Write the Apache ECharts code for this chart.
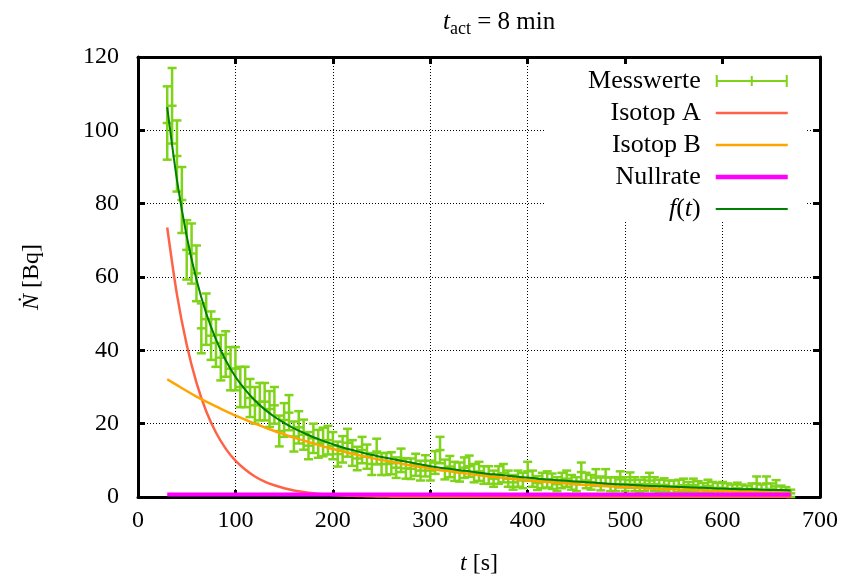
<!DOCTYPE html>
<html>
<head>
<meta charset="utf-8">
<script src="https://cdn.jsdelivr.net/npm/echarts@6/dist/echarts.min.js"></script>
<style>
  html, body { margin: 0; padding: 0; background: #fff; }
  #chart { width: 848px; height: 581px; }
</style>
</head>
<body>
<div id="chart"></div>
<script>
// Messwerte (t in s, Rate in Bq, Fehler)
var tData = [
  30,35,40,45,50,55,60,65,70,75,
  80,85,90,95,100,105,110,115,120,125,
  130,135,140,145,150,155,160,165,170,175,
  180,185,190,195,200,205,210,215,220,225,
  230,235,240,245,250,255,260,265,270,275,
  280,285,290,295,300,305,310,315,320,325,
  330,335,340,345,350,355,360,365,370,375,
  380,385,390,395,400,405,410,415,420,425,
  430,435,440,445,450,455,460,465,470,475,
  480,485,490,495,500,505,510,515,520,525,
  530,535,540,545,550,555,560,565,570,575,
  580,585,590,595,600,605,610,615,620,625,
  630,635,640,645,650,655,660,665,670
]
var nData = [
  102,106.7,93,81,67.4,66.4,61,46,48.5,44,
  42,38,39,35,35,30,30,27,25,26,
  26,24,25,18,21,23,16.5,19,17,14,
  16,14.5,15,15.5,14,11.7,13,14.8,12,10.5,
  12.8,11,9,12.4,9,9,9.2,8,10,7.8,
  7.7,8.8,7.2,8.5,7.2,9.4,12.8,7.5,8.3,7,
  6.8,8,8.4,6.5,7,6,6,5,6,6.5,
  5,4,5,4.5,7,5,3.8,4.5,4.8,4.3,
  3.5,4.5,5,4,3.5,6.8,4.5,4,5.3,3.7,
  5.3,3.5,3.5,4.8,3.5,4.6,3.5,3,3.5,4.5,
  3.5,3,3.3,2.8,2.8,3,3.2,2.5,3.2,2.7,
  2.3,3,2.5,2.3,2.5,2.2,2,2.4,2,1.8,
  2.2,3.7,2,3.7,2.2,2.9,1.8,1.5,1.0
]
var errData = [
  10,10.3,9.7,9,8.1,8.2,7.6,6.8,7,6.6,
  6.5,6.2,6.2,5.9,5.9,5.5,5.5,5.2,5,5.1,
  5.1,4.9,5,4.2,4.6,4.8,4.1,4.4,4.1,3.7,
  4,3.8,3.9,3.9,3.7,3.4,3.6,3.8,3.5,3.2,
  3.6,3.3,3,3.5,3,3,3,2.8,3.2,2.8,
  2.8,3,2.7,2.9,2.7,3.1,3.6,2.7,2.9,2.6,
  2.6,2.8,2.9,2.5,2.6,2.4,2.4,2.2,2.4,2.5,
  2.2,2,2.2,2.1,2.6,2.2,1.9,2.1,2.2,2.1,
  1.9,2.1,2.2,2,1.9,2.6,2.1,2,2.3,1.9,
  2.3,1.9,1.9,2.2,1.9,2.1,1.9,1.7,1.9,2.1,
  1.9,1.7,1.8,1.7,1.7,1.7,1.8,1.6,1.8,1.6,
  1.5,1.7,1.6,1.5,1.6,1.5,1.4,1.5,1.4,1.3,
  1.5,1.9,1.4,1.9,1.5,1.7,1.3,1.2,1.0
]

var curveT = [
  30,40,50,60,70,80,90,100,110,120,
  130,140,150,160,170,180,190,200,210,220,
  230,240,250,260,270,280,290,300,310,320,
  330,340,350,360,370,380,390,400,410,420,
  430,440,450,460,470,480,490,500,510,520,
  530,540,550,560,570,580,590,600,610,620,
  630,640,650,660,670
]
var isoA = [
  73.5,55.2,41.5,31.2,23.4,17.6,13.2,9.9,7.5,5.6,
  4.2,3.2,2.4,1.8,1.35,1.0,0.76,0.57,0.43,0.32,
  0.24,0.18,0.14,0.1,0.08,0.06,0.04,0.03,0.02,0.02,
  0.01,0.01,0.01,0,0,0,0,0,0,0,
  0,0,0,0,0,0,0,0,0,0,
  0,0,0,0,0,0,0,0,0,0,
  0,0,0,0,0
]
var isoB = [
  32.1,30.5,28.9,27.4,26.0,24.7,23.4,22.2,21.1,20.0,
  19.0,18.0,17.1,16.2,15.4,14.6,13.8,13.1,12.4,11.8,
  11.2,10.6,10.1,9.6,9.1,8.6,8.2,7.7,7.3,7.0,
  6.6,6.3,5.9,5.6,5.4,5.1,4.8,4.6,4.3,4.1,
  3.9,3.7,3.5,3.3,3.2,3.0,2.8,2.7,2.6,2.4,
  2.3,2.2,2.1,2.0,1.9,1.8,1.7,1.6,1.5,1.4,
  1.4,1.3,1.2,1.2,1.1
]
var fitF = [
  106.3,86.4,71.1,59.3,50.1,43.0,37.3,32.8,29.3,26.3,
  23.9,21.9,20.2,18.7,17.5,16.3,15.3,14.4,13.5,12.8,
  12.1,11.5,10.9,10.4,9.9,9.4,8.9,8.4,8.0,7.7,
  7.3,7.0,6.6,6.3,6.1,5.8,5.5,5.3,5.0,4.8,
  4.6,4.4,4.2,4.0,3.9,3.7,3.5,3.4,3.3,3.1,
  3.0,2.9,2.8,2.7,2.6,2.5,2.4,2.3,2.2,2.1,
  2.1,2.0,1.9,1.9,1.8
]
var nullT = [30, 670]
var nullV = [0.7, 0.7]

var xTicks = { min: 0, max: 700, step: 100 }
var yTicks = { min: 0, max: 120, step: 20 }

function pairs(xs, ys) {
  var out = []
  for (var i = 0; i < xs.length; i++) out.push([xs[i], ys[i]])
  return out
}

var errPoints = []
for (var i = 0; i < tData.length; i++) errPoints.push([tData[i], nData[i], errData[i]])

var FONT = 'Liberation Serif'
var green = '#7fd41a'
var colA = '#ff6347', colB = '#ffa500', colNull = '#ff00ff', colFit = '#008000'

function renderErr(params, api) {
  var t = api.value(0), v = api.value(1), e = api.value(2)
  var hi = api.coord([t, v + e])
  var lo = api.coord([t, v - e])
  var mid = api.coord([t, v])
  var hw = 4.5
  var st = { stroke: green, lineWidth: 2.5, fill: null }
  return {
    type: 'group',
    children: [
      { type: 'line', shape: { x1: hi[0], y1: hi[1], x2: lo[0], y2: lo[1] }, style: st },
      { type: 'line', shape: { x1: hi[0] - hw, y1: hi[1], x2: hi[0] + hw, y2: hi[1] }, style: st },
      { type: 'line', shape: { x1: lo[0] - hw, y1: lo[1], x2: lo[0] + hw, y2: lo[1] }, style: st },
      { type: 'line', shape: { x1: mid[0] - hw, y1: mid[1], x2: mid[0] + hw, y2: mid[1] }, style: st }
    ]
  }
}

var chart = echarts.init(document.getElementById('chart'))

var border = { show: true, onZero: false, lineStyle: { color: '#000', width: 3 } }
var ticks = { show: true, inside: true, length: 7, lineStyle: { color: '#000', width: 3 } }
var dotted = { show: true, lineStyle: { color: '#000', width: 1, type: [1, 2] } }
var lbl = { color: '#000', fontFamily: FONT, fontSize: 24 }
var LF = 26

function lineItem(name, color, w) {
  return { name: name, itemStyle: { opacity: 0 }, lineStyle: { color: color, width: w, opacity: 1 } }
}

var option = {
  animation: false,
  backgroundColor: '#fff',
  title: {
    text: '{i|t}{s|act}{r| = 8 min}',
    left: 438,
    top: 1,
    textStyle: {
      fontWeight: 'normal',
      rich: {
        i: { fontFamily: FONT, fontSize: 25, fontStyle: 'italic', fontWeight: 'normal', color: '#000', verticalAlign: 'middle' },
        s: { fontFamily: FONT, fontSize: 18, fontWeight: 'normal', color: '#000', verticalAlign: 'bottom', padding: [14, 0, 0, 0] },
        r: { fontFamily: FONT, fontSize: 25, fontWeight: 'normal', color: '#000', verticalAlign: 'middle' }
      }
    }
  },
  grid: { left: 138, right: 28, top: 57, bottom: 83, containLabel: false },
  legend: {
    orient: 'vertical',
    align: 'right',
    right: 43,
    top: 57,
    padding: [11, 15, 0, 44],
    backgroundColor: '#fff',
    itemWidth: 72,
    itemHeight: 12,
    itemGap: 6,
    selectedMode: false,
    formatter: function (name) {
      if (name === 'f(t)') return '{fi|f}{r|(}{fi|t}{rp|)}'
      return '{rp|' + name + '}'
    },
    textStyle: {
      color: '#000',
      fontFamily: FONT,
      fontSize: LF,
      rich: {
        r: { fontFamily: FONT, fontSize: LF, color: '#000' },
        rp: { fontFamily: FONT, fontSize: LF, color: '#000', padding: [0, 10, 0, 0] },
        fi: { fontFamily: FONT, fontSize: LF, fontStyle: 'italic', color: '#000' }
      }
    },
    data: [
      { name: 'Messwerte', icon: 'path://M0,0H2V5H35V1H37V5H70V0H72V12H70V7H37V11H35V7H2V12H0Z', itemStyle: { color: green } },
      lineItem('Isotop A', colA, 2.5),
      lineItem('Isotop B', colB, 2.5),
      lineItem('Nullrate', colNull, 4.5),
      lineItem('f(t)', colFit, 2)
    ]
  },
  xAxis: [
    {
      type: 'value', min: xTicks.min, max: xTicks.max, interval: xTicks.step, position: 'bottom',
      axisLine: border, axisTick: ticks, splitLine: dotted,
      axisLabel: Object.assign({ margin: 12 }, lbl),
      name: '{i|t} [s]', nameLocation: 'middle', nameGap: 55,
      nameTextStyle: {
        color: '#000', fontFamily: FONT, fontSize: 24,
        rich: { i: { fontFamily: FONT, fontSize: 24, fontStyle: 'italic', color: '#000' } }
      }
    },
    {
      type: 'value', min: xTicks.min, max: xTicks.max, interval: xTicks.step, position: 'top', z: 10,
      axisLine: border, axisTick: ticks, splitLine: { show: false }, axisLabel: { show: false }
    }
  ],
  yAxis: [
    {
      type: 'value', min: yTicks.min, max: yTicks.max, interval: yTicks.step, position: 'left',
      axisLine: border, axisTick: ticks, splitLine: dotted,
      axisLabel: Object.assign({ margin: 19 }, lbl),
      name: '{i|Ṅ} [Bq]', nameLocation: 'middle', nameGap: 94, nameRotate: 90,
      nameTextStyle: {
        color: '#000', fontFamily: FONT, fontSize: 24,
        rich: { i: { fontFamily: FONT, fontSize: 24, fontStyle: 'italic', color: '#000' } }
      }
    },
    {
      type: 'value', min: yTicks.min, max: yTicks.max, interval: yTicks.step, position: 'right', z: 10,
      axisLine: border, axisTick: ticks, splitLine: { show: false }, axisLabel: { show: false }
    }
  ],
  series: [
    {
      name: 'Messwerte', type: 'custom', renderItem: renderErr,
      encode: { x: 0, y: 1 }, data: errPoints, itemStyle: { color: green }, z: 2
    },
    {
      name: 'Isotop A', type: 'line', data: pairs(curveT, isoA), symbol: 'none',
      smooth: 0.3, lineStyle: { color: colA, width: 2.5 }, itemStyle: { color: colA }, z: 3
    },
    {
      name: 'Isotop B', type: 'line', data: pairs(curveT, isoB), symbol: 'none',
      smooth: 0.3, lineStyle: { color: colB, width: 2.5 }, itemStyle: { color: colB }, z: 3
    },
    {
      name: 'Nullrate', type: 'line', data: pairs(nullT, nullV), symbol: 'none',
      lineStyle: { color: colNull, width: 4 }, itemStyle: { color: colNull }, z: 3
    },
    {
      name: 'f(t)', type: 'line', data: pairs(curveT, fitF), symbol: 'none',
      smooth: 0.3, lineStyle: { color: colFit, width: 2 }, itemStyle: { color: colFit }, z: 4
    }
  ]
}

chart.setOption(option)
</script>
</body>
</html>
